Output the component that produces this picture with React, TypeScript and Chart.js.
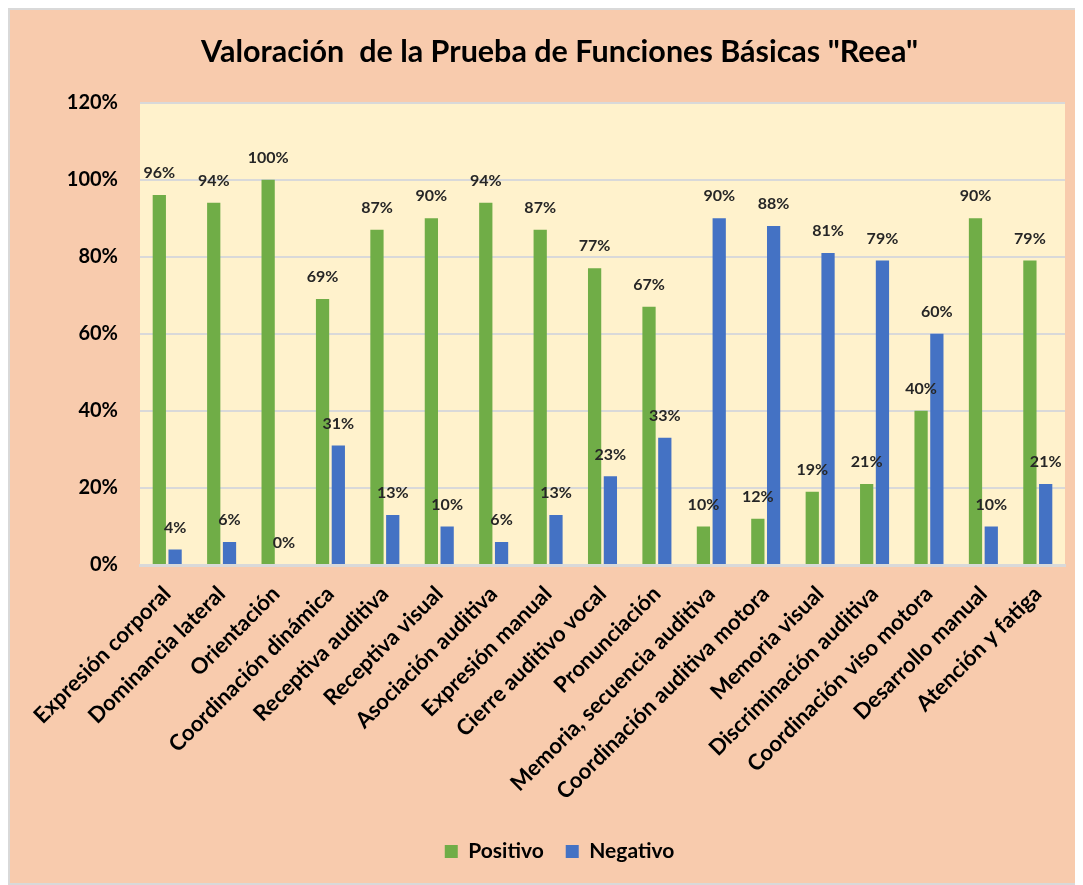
import React, { useEffect, useRef } from "react";
import { Chart, registerables } from "chart.js";

Chart.register(...registerables);

const categories = [
  "Expresión corporal",
  "Dominancia lateral",
  "Orientación",
  "Coordinación dinámica",
  "Receptiva auditiva",
  "Receptiva visual",
  "Asociación auditiva",
  "Expresión manual",
  "Cierre auditivo vocal",
  "Pronunciación",
  "Memoria, secuencia auditiva",
  "Coordinación auditiva motora",
  "Memoria visual",
  "Discriminación auditiva",
  "Coordinación viso motora",
  "Desarrollo manual",
  "Atención y fatiga",
];

const positivo = [96, 94, 100, 69, 87, 90, 94, 87, 77, 67, 10, 12, 19, 21, 40, 90, 79];
const negativo = [4, 6, 0, 31, 13, 10, 6, 13, 23, 33, 90, 88, 81, 79, 60, 10, 21];

const yTicks = [0, 20, 40, 60, 80, 100, 120];

const titleText = 'Valoración  de la Prueba de Funciones Básicas "Reea"';
const FONT = "Lato, 'DejaVu Sans', sans-serif";

const plotBg = {
  id: "plotBg",
  beforeDraw(chart: any) {
    const { ctx, chartArea } = chart;
    if (!chartArea) return;
    ctx.save();
    ctx.fillStyle = "#FFF2CC";
    ctx.fillRect(chartArea.left, chartArea.top, chartArea.right - chartArea.left, chartArea.bottom - chartArea.top);
    ctx.restore();
  },
};

const dataLabels = {
  id: "dataLabels",
  afterDatasetsDraw(chart: any) {
    const { ctx } = chart;
    ctx.save();
    ctx.font = `bold 16px ${FONT}`;
    ctx.fillStyle = "#262626";
    ctx.textAlign = "center";
    ctx.textBaseline = "middle";
    chart.data.datasets.forEach((ds: any, i: number) => {
      const meta = chart.getDatasetMeta(i);
      meta.data.forEach((bar: any, j: number) => {
        ctx.fillText(`${ds.data[j]}%`, bar.x, bar.y - 22);
      });
    });
    ctx.restore();
  },
};

export default function App() {
  const ref = useRef<HTMLCanvasElement>(null);
  useEffect(() => {
    if (!ref.current) return;
    const chart = new Chart(ref.current, {
      type: "bar",
      data: {
        labels: categories,
        datasets: [
          {
            label: "Positivo",
            data: positivo,
            backgroundColor: "#70AD47",
            categoryPercentage: 0.58,
            barPercentage: 0.84,
          },
          {
            label: "Negativo",
            data: negativo,
            backgroundColor: "#4472C4",
            categoryPercentage: 0.58,
            barPercentage: 0.84,
          },
        ],
      },
      options: {
        animation: false,
        responsive: false,
        maintainAspectRatio: false,
        layout: { padding: { left: 44, right: 16, top: 0, bottom: 11 } },
        plugins: {
          title: {
            display: true,
            text: titleText,
            color: "#000000",
            font: { family: FONT, size: 30.5, weight: "bold" },
            padding: { top: 24, bottom: 32 },
          },
          legend: {
            position: "bottom",
            labels: {
              color: "#000000",
              font: { family: FONT, size: 21, weight: "bold" },
              boxWidth: 13,
              boxHeight: 13,
              padding: 22,
            },
          },
          tooltip: { enabled: false },
        },
        scales: {
          x: {
            grid: { display: false },
            border: { display: true, color: "#D9D9D9", width: 3 },
            ticks: {
              color: "#000000",
              font: { family: FONT, size: 22, weight: "bold" },
              maxRotation: 45,
              minRotation: 45,
              autoSkip: false,
              padding: 8,
            },
            afterFit(scale: any) {
              scale.height = 254;
            },
          },
          y: {
            min: 0,
            max: 120,
            afterBuildTicks(scale: any) {
              scale.ticks = yTicks.map((v) => ({ value: v }));
            },
            grid: { color: "#D9D9D9", lineWidth: 2, drawTicks: false },
            border: { display: false },
            ticks: {
              color: "#000000",
              font: { family: FONT, size: 20, weight: "bold" },
              padding: 22,
              callback: (v: any) => `${v}%`,
            },
            afterFit(scale: any) {
              scale.width = 86;
            },
          },
        },
      },
      plugins: [plotBg, dataLabels],
    });
    return () => chart.destroy();
  }, []);

  return (
    <div
      style={{
        width: 1071,
        height: 873,
        border: "2px solid #D9D9D9",
        background: "#F8CBAD",
      }}
    >
      <canvas ref={ref} width={1071} height={873} style={{ display: "block" }} />
    </div>
  );
}
